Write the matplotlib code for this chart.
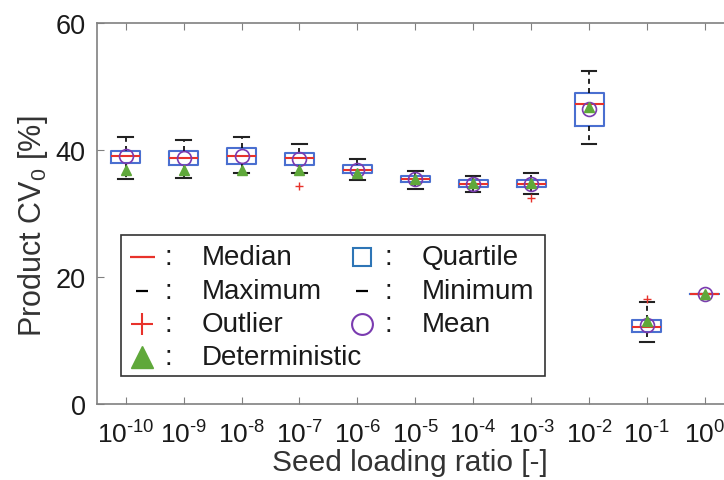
import numpy as np
import matplotlib.pyplot as plt
from matplotlib.patches import Rectangle

plt.rcParams['font.family'] = ['Liberation Sans', 'DejaVu Sans']
plt.rcParams['mathtext.fontset'] = 'custom'
plt.rcParams['mathtext.rm'] = 'Liberation Sans'
plt.rcParams['mathtext.it'] = 'Liberation Sans:italic'
plt.rcParams['mathtext.default'] = 'regular'

# 数据
exps = [-10, -9, -8, -7, -6, -5, -4, -3, -2, -1, 0]
q1 = [37.9, 37.7, 37.8, 37.7, 36.4, 35.0, 34.2, 34.1, 43.8, 11.3, 17.4]
med = [39.1, 38.8, 39.0, 38.7, 36.9, 35.5, 34.7, 34.7, 47.2, 12.2, 17.4]
q3 = [39.8, 39.8, 40.3, 39.6, 37.6, 35.9, 35.3, 35.3, 49.0, 13.3, 17.4]
wlo = [35.5, 35.6, 36.3, 36.3, 35.2, 33.8, 33.4, 33.1, 40.9, 9.7, 17.4]
whi = [42.0, 41.6, 42.0, 40.9, 38.6, 36.7, 35.9, 36.3, 52.5, 16.0, 17.4]
mean = [39.0, 38.8, 39.0, 38.6, 36.9, 35.4, 34.7, 34.7, 46.5, 12.4, 17.4]
det = [36.9, 36.9, 36.9, 36.8, 36.4, 35.5, 34.8, 34.8, 46.7, 13.0, 17.4]
outliers = [[], [], [], [34.3], [], [], [], [32.5], [], [16.5], []]
# 上标用连字符（mathtext 会把 '-' 变成减号）
tick_labels = ['10$^{%s}$' % str(e).replace('-', '\u2010') for e in exps]

c_box = '#4a6fd0'
c_med = '#e8322b'
c_mean = '#7a3bb0'
c_det = '#5fa83a'
c_axis = '#808080'

fig = plt.figure(figsize=(7.24, 4.81), dpi=100)
ax = fig.add_axes([96.7 / 724, 76 / 481, 1 - 96.7 / 724, 381 / 481])

stats = []
for i in range(len(exps)):
    stats.append(dict(med=med[i], q1=q1[i], q3=q3[i], whislo=wlo[i], whishi=whi[i],
                      mean=mean[i], fliers=outliers[i]))

ax.bxp(stats, positions=exps, widths=0.5, capwidths=0.25, showmeans=True,
       boxprops=dict(color=c_box, lw=1.5),
       medianprops=dict(color=c_med, lw=1.5),
       whiskerprops=dict(color='black', lw=1.2, ls=(0, (3, 2.5))),
       capprops=dict(color='#222222', lw=1.5),
       flierprops=dict(marker='+', markeredgecolor=c_med, markersize=6, lw=0),
       meanprops=dict(marker='o', markerfacecolor='none', markeredgecolor=c_mean,
                      markersize=10, markeredgewidth=1.2))
ax.plot(exps, det, ls='none', marker='^', color=c_det, markersize=7, zorder=3)

ax.set_xlim(-10.5, 0.33)
ax.set_ylim(0, 60)
ax.set_yticks([0, 20, 40, 60])
ax.set_xticks(exps)
ax.set_xticklabels(tick_labels)
ax.tick_params(direction='in', length=5, color=c_axis, labelsize=19.5, top=True,
               labelcolor='#1a1a1a')
ax.tick_params(axis='x', pad=12, labelsize=19)
ax.tick_params(axis='y', pad=8)
for s in ['left', 'bottom', 'top']:
    ax.spines[s].set_color(c_axis)
    ax.spines[s].set_linewidth(1.2)
ax.spines['right'].set_visible(False)

ax.set_xlabel('Seed loading ratio [-]', fontsize=21.5, color='#333333', labelpad=0)
ax.set_ylabel('Product CV$_0$ [%]', fontsize=22, color='#333333')
ax.yaxis.set_label_coords(-0.074, 0.47)

# 手动绘制图例
def px(x, y):
    return ((x - 96.7) / 627.3, (405 - y) / 381)

x0, y0 = px(120.5, 377)
x1, y1 = px(545, 236)
ax.add_patch(Rectangle((x0, y0), x1 - x0, y1 - y0, transform=ax.transAxes,
                       fill=True, facecolor='white', edgecolor='#333333', lw=1.2, zorder=5))

rows = [258, 292, 325, 358]
items = [
    (142, rows[0], dict(marker='_', color=c_med, markersize=18, mew=1.6), 'Median'),
    (142, rows[1], dict(marker='_', color='black', markersize=8, mew=1.6), 'Maximum'),
    (142, rows[2], dict(marker='+', color=c_med, markersize=16, mew=1.5), 'Outlier'),
    (142, rows[3], dict(marker='^', color=c_det, markersize=16), 'Deterministic'),
    (362, rows[0], dict(marker='s', mfc='none', mec='#2e75b6', markersize=13, mew=1.5), 'Quartile'),
    (362, rows[1], dict(marker='_', color='black', markersize=8, mew=1.6), 'Minimum'),
    (362, rows[2], dict(marker='o', mfc='none', mec=c_mean, markersize=15, mew=1.5), 'Mean'),
]
for mx, my, kw, lab in items:
    ax.plot(*px(mx, my), transform=ax.transAxes, ls='none', zorder=6, clip_on=False, **kw)
    ax.text(*px(mx + 26, my), ':', transform=ax.transAxes, fontsize=20,
            va='center', ha='center', zorder=6, color='#1a1a1a')
    ax.text(*px(mx + 60, my), lab, transform=ax.transAxes, fontsize=20,
            va='center', ha='left', zorder=6, color='#1a1a1a')

fig.savefig('out.png', dpi=100)
